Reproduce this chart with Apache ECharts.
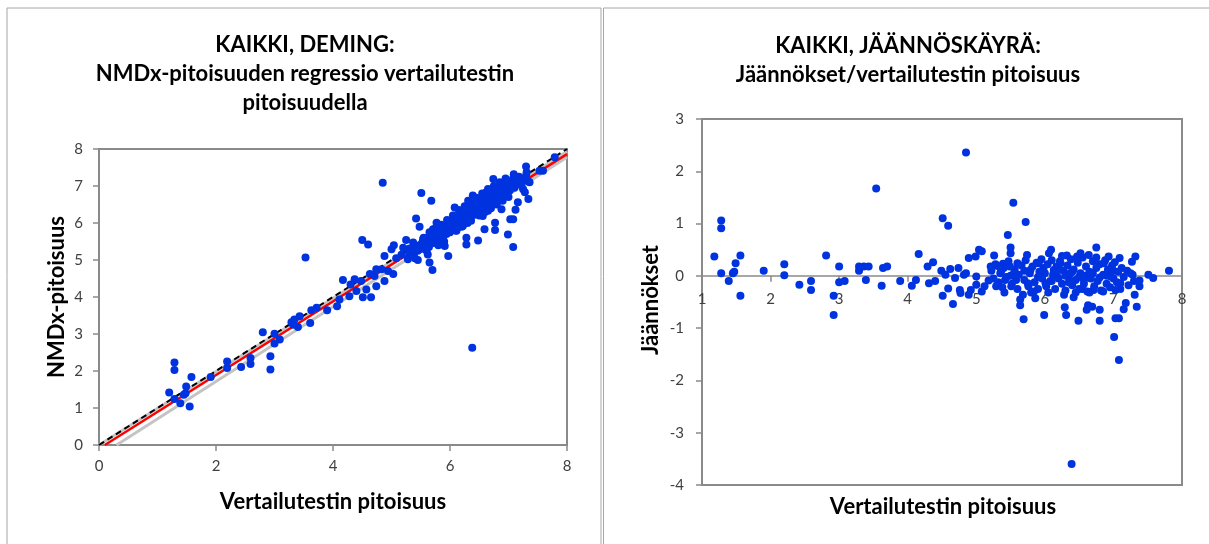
<!DOCTYPE html>
<html>
<head>
<meta charset="utf-8">
<script src="https://cdn.jsdelivr.net/npm/echarts@6/dist/echarts.min.js"></script>
<style>
  html, body { margin: 0; padding: 0; background: #fff; }
  #chart { width: 1209px; height: 544px; }
</style>
</head>
<body>
<div id="chart"></div>
<script>
// NMDx vs reference (x, y)
const demingPoints = [
  [1.29,2.23],[1.29,2.03],[1.20,1.42],[1.29,1.24],[1.39,1.13],[1.45,1.36],[1.49,1.58],[1.55,1.04],
  [1.58,1.84],[1.48,1.40],[1.91,1.84],[2.19,2.26],[2.19,2.08],[2.43,2.11],[2.59,2.35],[2.59,2.19],
  [2.80,3.05],[2.93,2.40],[2.93,2.04],[3.00,3.01],[3.00,2.74],[3.09,2.85],[3.29,3.32],[3.34,3.39],
  [3.43,3.48],[3.40,3.19],[3.32,3.25],[3.53,5.07],[3.61,3.30],[3.63,3.64],[3.72,3.71],[3.90,3.64],
  [4.07,3.75],[4.11,3.93],[4.17,4.46],[4.28,4.02],[4.30,4.34],[4.37,4.48],[4.40,4.16],[4.48,4.43],
  [4.50,5.54],[4.60,5.42],[4.51,3.99],[4.57,4.20],[4.65,3.99],[4.63,4.62],[4.71,4.57],[4.74,4.75],
  [4.74,4.29],[4.83,4.75],[4.85,7.09],[4.88,5.11],[4.88,4.43],[4.94,4.70],[5.00,5.29],[5.03,4.62],
  [5.04,5.40],[5.08,5.05],[5.17,5.14],[5.20,5.33],[5.25,5.54],[5.28,5.02],[5.31,5.31],[5.37,5.47],
  [5.42,6.12],[5.45,5.00],[5.48,5.90],[5.51,6.81],[5.54,5.56],[5.60,5.56],[5.62,5.15],[5.65,4.93],
  [5.68,6.60],[5.70,4.73],[5.71,5.83],[5.77,6.01],[5.80,5.56],[5.88,5.74],[5.91,5.38],[5.97,5.11],
  [6.00,5.96],[6.05,6.10],[6.08,6.42],[6.11,5.79],[6.17,6.19],[6.22,5.92],[6.28,5.60],[6.28,5.42],
  [6.31,6.60],[6.34,6.28],[6.36,6.06],[6.38,2.63],[6.39,6.74],[6.45,6.46],[6.48,5.53],[6.51,6.65],
  [6.56,6.19],[6.59,5.83],[6.62,6.83],[6.65,6.33],[6.74,7.19],[6.77,6.01],[6.77,5.81],[6.79,6.60],
  [6.85,7.01],[6.88,6.37],[6.91,6.78],[6.97,7.14],[6.99,5.69],[7.02,6.91],[7.03,6.10],[7.08,6.10],
  [7.08,5.35],[7.09,7.32],[7.12,6.36],[7.16,6.56],[7.19,7.10],[7.25,6.91],[7.28,6.83],[7.30,7.53],
  [7.31,7.37],[7.34,6.65],[7.36,7.10],[7.53,7.41],[7.59,7.41],[7.79,7.78],
  [5.30,5.20],[5.35,5.28],[5.38,5.15],[5.42,5.35],[5.45,5.25],[5.48,5.40],[5.50,5.30],[5.52,5.45],
  [5.55,5.38],[5.57,5.50],[5.60,5.42],[5.62,5.60],[5.64,5.35],[5.66,5.52],[5.68,5.65],[5.70,5.45],
  [5.72,5.58],[5.74,5.70],[5.76,5.50],[5.78,5.62],[5.80,5.75],[5.82,5.55],[5.84,5.68],[5.86,5.82],
  [5.88,5.60],[5.90,5.78],[5.92,5.90],[5.94,5.70],[5.96,5.85],[5.98,5.95],[6.00,5.75],[6.02,6.02],
  [6.04,5.88],[6.06,6.10],[6.08,5.95],[6.10,6.15],[6.12,5.85],[6.14,6.05],[6.16,6.25],[6.18,5.98],
  [6.20,6.12],[6.22,6.30],[6.24,6.05],[6.26,6.20],[6.28,6.38],[6.30,6.10],[6.32,6.28],[6.34,6.45],
  [6.36,6.18],[6.38,6.35],[6.40,6.50],[6.42,6.22],[6.44,6.40],[6.46,6.58],[6.48,6.30],[6.50,6.48],
  [6.52,6.62],[6.54,6.35],[6.56,6.55],[6.58,6.70],[6.60,6.42],[6.62,6.60],[6.64,6.75],[6.66,6.50],
  [6.68,6.65],[6.70,6.85],[6.72,6.55],[6.74,6.72],[6.76,6.90],[6.78,6.62],[6.80,6.80],[6.82,6.95],
  [6.84,6.70],[6.86,6.85],[6.88,7.02],[6.90,6.75],[6.92,6.92],[6.94,7.08],[6.96,6.82],[6.98,6.98],
  [7.00,7.12],[7.02,6.88],[7.05,7.05],[7.08,7.20],[7.10,6.95],[7.14,7.10],[7.18,7.25],[7.22,7.02],
  [7.26,7.18],[7.30,7.28],[7.34,7.12],
  [5.55,5.60],[5.65,5.75],[5.75,5.85],[5.85,5.95],[5.95,6.08],[6.05,6.20],[6.15,6.35],[6.25,6.45],
  [6.35,6.55],[6.45,6.68],[6.55,6.80],[6.65,6.92],[6.75,7.00],[6.85,7.10],[6.95,7.20],[6.50,6.20],
  [6.60,6.30],[6.70,6.40],[6.80,6.50],[6.90,6.60],[7.00,6.70],[6.30,6.00],[6.20,5.90],[6.10,5.80],
  [5.90,5.50],[5.80,5.40],[5.60,5.25],[5.40,5.05]
];

// residuals (x, residual)
const residualPoints = [
  [1.18,0.37],[1.28,1.06],[1.28,0.91],[1.28,0.05],[1.39,-0.10],[1.45,0.05],[1.47,0.08],[1.49,0.24],
  [1.56,0.39],[1.56,-0.38],[1.90,0.10],[2.20,0.22],[2.20,0.01],[2.42,-0.17],[2.59,-0.10],[2.59,-0.27],
  [2.81,0.39],[2.92,-0.38],[2.92,-0.75],[3.00,0.18],[3.00,-0.12],[3.08,-0.10],[3.29,0.18],[3.29,0.10],
  [3.36,0.18],[3.43,0.18],[3.39,-0.08],[3.54,1.67],[3.62,-0.19],[3.64,0.15],[3.70,0.18],[3.89,-0.10],
  [4.06,-0.19],[4.12,-0.08],[4.16,0.42],[4.29,0.18],[4.31,-0.14],[4.37,0.26],[4.40,-0.10],[4.49,0.10],
  [4.51,1.10],[4.51,-0.38],[4.55,0.02],[4.59,0.96],[4.59,-0.24],[4.62,0.13],[4.66,-0.54],[4.69,-0.04],
  [4.74,0.15],[4.76,-0.27],[4.77,-0.33],[4.82,0.02],[4.85,2.36],[4.85,0.05],[4.89,0.34],[4.89,-0.36],
  [4.92,-0.27],[4.99,0.37],[5.00,-0.01],[5.00,-0.17],[5.04,0.50],[5.08,0.47],[5.08,-0.30],[5.12,-0.20],
  [5.18,-0.09],[5.21,0.18],[5.26,0.39],[5.29,-0.20],[5.31,0.19],[5.36,0.08],[5.39,0.23],[5.41,-0.32],
  [5.42,-0.08],[5.46,0.78],[5.49,0.18],[5.50,0.54],[5.50,0.43],[5.51,-0.20],[5.54,1.40],[5.55,0.05],
  [5.58,-0.08],[5.60,0.24],[5.64,-0.45],[5.64,-0.56],[5.68,-0.36],[5.69,-0.83],[5.72,1.03],[5.74,0.40],
  [5.75,-0.14],[5.79,0.11],[5.84,-0.30],[5.86,-0.43],[5.91,0.24],[5.94,-0.01],[5.99,-0.75],[6.01,-0.14],
  [6.06,0.43],[6.09,0.50],[6.13,0.11],[6.18,-0.01],[6.23,0.24],[6.28,-0.36],[6.29,-0.60],[6.31,-0.75],
  [6.32,0.39],[6.37,0.05],[6.39,-3.60],[6.42,-0.41],[6.47,0.37],[6.49,-0.86],[6.52,0.43],[6.57,-0.08],
  [6.61,-0.65],[6.63,-0.56],[6.64,0.40],[6.69,-0.59],[6.71,-0.27],[6.75,0.54],[6.80,-0.65],[6.80,-0.86],
  [6.86,0.24],[6.93,0.37],[6.96,-0.01],[7.01,-1.17],[7.03,-0.27],[7.03,-0.81],[7.08,-1.61],[7.08,-0.81],
  [7.09,0.34],[7.10,-0.14],[7.15,-0.64],[7.18,-0.52],[7.25,0.05],[7.27,0.27],[7.31,-0.36],[7.32,0.37],
  [7.34,-0.59],[7.38,-0.09],[7.38,-0.20],[7.51,0.02],[7.58,-0.04],[7.81,0.10],
  [5.22,0.10],[5.25,-0.05],[5.28,0.22],[5.32,-0.12],[5.35,0.05],[5.38,-0.22],[5.40,0.15],[5.44,-0.02],
  [5.47,0.28],[5.52,-0.15],[5.56,0.12],[5.60,-0.25],[5.62,0.02],[5.66,0.20],[5.70,-0.08],[5.72,0.30],
  [5.76,-0.20],[5.78,0.05],[5.82,0.18],[5.85,-0.12],[5.88,0.25],[5.90,-0.25],[5.92,0.08],[5.96,-0.05],
  [5.98,0.15],[6.02,-0.20],[6.04,0.22],[6.08,-0.10],[6.10,0.30],[6.12,0.02],[6.15,-0.25],[6.17,0.18],
  [6.20,-0.05],[6.22,0.28],[6.25,-0.15],[6.27,0.10],[6.30,-0.28],[6.33,0.20],[6.35,-0.02],[6.38,0.32],
  [6.40,-0.18],[6.42,0.12],[6.45,-0.08],[6.48,0.25],[6.50,-0.25],[6.52,0.05],[6.55,0.35],[6.57,-0.15],
  [6.60,0.18],[6.62,-0.30],[6.65,0.08],[6.67,-0.05],[6.70,0.28],[6.72,-0.20],[6.75,0.15],[6.77,-0.10],
  [6.80,0.22],[6.82,-0.28],[6.85,0.02],[6.88,0.30],[6.90,-0.15],[6.92,0.12],[6.95,-0.22],[6.98,0.20],
  [7.00,-0.05],[7.02,0.26],[7.05,-0.12],[7.07,0.08],[7.10,-0.25],[7.12,0.15],[7.15,-0.02],[7.20,0.10],
  [7.22,-0.18],[7.28,0.02],[7.30,-0.10],
  [5.50,0.00],[5.70,0.10],[5.90,-0.02],[6.00,0.05],[6.10,-0.10],[6.20,0.12],[6.30,0.00],[6.40,0.08],
  [6.50,-0.02],[6.60,0.00],[6.70,0.05],[6.80,-0.03],[6.90,0.00],[7.00,0.10],[6.45,-0.32],[6.65,-0.32],
  [6.25,0.38],[6.75,0.35],[5.95,0.32],[6.05,-0.32],[6.55,-0.25],[6.85,-0.30],[6.35,-0.12],[5.80,-0.32]
];

// reference lines (end points)
const identityLine = [[0, 0], [8, 8]];
const demingLine = [[0.1, 0], [8, 7.86]];
const upperLimit = [[0, 0], [8, 7.93]];
const lowerLimit = [[0.3, 0], [8, 7.78]];

const leftTitle = ['KAIKKI, DEMING:', 'NMDx-pitoisuuden regressio vertailutestin', 'pitoisuudella'];
const rightTitle = ['KAIKKI, JÄÄNNÖSKÄYRÄ:', 'Jäännökset/vertailutestin pitoisuus'];
const xName = 'Vertailutestin pitoisuus';
const leftYName = 'NMDx-pitoisuus';
const rightYName = 'Jäännökset';

const FONT = 'Lato, "Open Sans", sans-serif';
const AXIS_GREY = '#8a8a8a';
const LABEL_COL = '#404040';
const DOT = '#0033e0';

const chartDom = document.getElementById('chart');
const myChart = echarts.init(chartDom, null, { renderer: 'canvas' });

const boldText = (text, x, y, rot) => ({
  type: 'text',
  x: x,
  y: y,
  rotation: rot || 0,
  style: {
    text: text,
    font: 'bold 22px ' + FONT,
    lineHeight: 29,
    fill: '#000',
    textAlign: 'center',
    textVerticalAlign: 'middle'
  }
});

const tickLabel = { color: LABEL_COL, fontSize: 15, fontFamily: FONT };

// right grid geometry, used to lift its x axis up to y = 0
const rGridTop = 119;
const rGridHeight = 366;
const rYMin = -4;
const rYMax = 3;
const zeroOffset = -rGridHeight * (0 - rYMin) / (rYMax - rYMin);

const option = {
  animation: false,
  backgroundColor: '#fff',
  graphic: [
    { type: 'rect', shape: { x: 7, y: 8, width: 594, height: 560 }, style: { fill: 'none', stroke: '#a6a6a6', lineWidth: 1 } },
    { type: 'rect', shape: { x: 603.5, y: 8, width: 620, height: 560 }, style: { fill: 'none', stroke: '#a6a6a6', lineWidth: 1 } },
    boldText(leftTitle.join('\n'), 305, 74),
    boldText(rightTitle.join('\n'), 908, 60),
    boldText(xName, 333, 502),
    boldText(xName, 943, 507),
    boldText(leftYName, 57, 297, Math.PI / 2),
    boldText(rightYName, 651, 300, Math.PI / 2)
  ],
  grid: [
    { left: 99, top: 149, width: 468, height: 296, show: true, borderColor: AXIS_GREY, borderWidth: 2 },
    { left: 702, top: rGridTop, width: 480, height: rGridHeight, show: true, borderColor: AXIS_GREY, borderWidth: 2 }
  ],
  xAxis: [
    {
      gridIndex: 0, type: 'value', min: 0, max: 8, interval: 2,
      axisLine: { lineStyle: { color: AXIS_GREY, width: 2 } },
      axisTick: { show: true, length: 6, lineStyle: { color: AXIS_GREY, width: 1.5 } },
      axisLabel: Object.assign({ margin: 14 }, tickLabel),
      splitLine: { show: false }
    },
    {
      gridIndex: 1, type: 'value', min: 1, max: 8, interval: 1,
      position: 'bottom', offset: zeroOffset,
      axisLine: { onZero: false, lineStyle: { color: AXIS_GREY, width: 1.5 } },
      axisTick: { show: true, length: 6, lineStyle: { color: AXIS_GREY, width: 1.5 } },
      axisLabel: Object.assign({ margin: 16 }, tickLabel),
      splitLine: { show: false }
    }
  ],
  yAxis: [
    {
      gridIndex: 0, type: 'value', min: 0, max: 8, interval: 1,
      axisLine: { show: true, lineStyle: { color: AXIS_GREY, width: 2 } },
      axisTick: { show: true, length: 6, lineStyle: { color: AXIS_GREY, width: 1.5 } },
      axisLabel: Object.assign({ margin: 16 }, tickLabel),
      splitLine: { show: false }
    },
    {
      gridIndex: 1, type: 'value', min: rYMin, max: rYMax, interval: 1,
      axisLine: { show: true, lineStyle: { color: AXIS_GREY, width: 2 } },
      axisTick: { show: true, length: 6, lineStyle: { color: AXIS_GREY, width: 1.5 } },
      axisLabel: Object.assign({ margin: 18 }, tickLabel),
      splitLine: { show: false }
    }
  ],
  series: [
    {
      type: 'line', xAxisIndex: 0, yAxisIndex: 0, data: upperLimit, symbol: 'none', z: 1,
      lineStyle: { color: '#c4c4c4', width: 3 }
    },
    {
      type: 'line', xAxisIndex: 0, yAxisIndex: 0, data: lowerLimit, symbol: 'none', z: 1,
      lineStyle: { color: '#c4c4c4', width: 3 }
    },
    {
      type: 'line', xAxisIndex: 0, yAxisIndex: 0, data: demingLine, symbol: 'none', z: 2,
      lineStyle: { color: '#ff0000', width: 2.5 }
    },
    {
      type: 'line', xAxisIndex: 0, yAxisIndex: 0, data: identityLine, symbol: 'none', z: 2,
      lineStyle: { color: '#000', width: 2, type: [6, 4] }
    },
    {
      type: 'scatter', xAxisIndex: 0, yAxisIndex: 0, data: demingPoints, z: 3,
      symbol: 'circle', symbolSize: 8, itemStyle: { color: DOT, opacity: 1 }
    },
    {
      type: 'scatter', xAxisIndex: 1, yAxisIndex: 1, data: residualPoints, z: 3,
      symbol: 'circle', symbolSize: 8, itemStyle: { color: DOT, opacity: 1 }
    }
  ]
};

myChart.setOption(option);
</script>
</body>
</html>
